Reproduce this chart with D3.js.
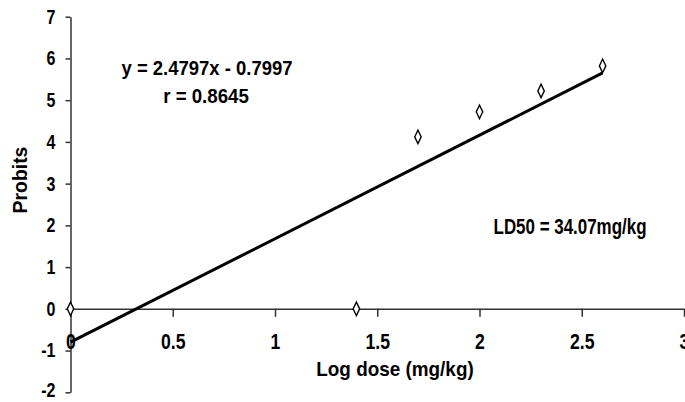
<!DOCTYPE html>
<html>
<head>
<meta charset="utf-8">
<script src="https://cdn.jsdelivr.net/npm/d3@7"></script>
<style>
  body { margin: 0; background: #fff; }
  svg text { font-family: "Liberation Sans", Arial, sans-serif; font-weight: bold; fill: #000; }
</style>
</head>
<body>
<svg width="685" height="402"></svg>
<script>
// log dose vs probit values
const logDose = [0, 1.398, 1.699, 2.0, 2.301, 2.602];
const probits = [0, 0, 4.12, 4.72, 5.22, 5.82];
const xTicks = [0, 0.5, 1, 1.5, 2, 2.5, 3];
const yTicks = [-2, -1, 0, 1, 2, 3, 4, 5, 6, 7];
const slope = 2.4797, intercept = -0.7997;

let svg = d3.select("svg");

let x = d3.scaleLinear().domain([0, 3]).range([70.5, 684]),
    y = d3.scaleLinear().domain([-2, 7]).range([392.3, 16.7]);

// narrow look: squeeze text horizontally
const NARROW = 0.8;

// y axis line + ticks
let yAxis = svg.append("g")
    .attr("transform", "translate(" + x(0) + ",0)")
    .call(d3.axisLeft(y).tickValues(yTicks).tickSize(5).tickSizeOuter(0).tickFormat(d => String(d)));
yAxis.attr("font-family", null).attr("font-size", null);
yAxis.select(".domain").attr("stroke", "#333").attr("stroke-width", 1.5);
yAxis.selectAll(".tick line").attr("stroke", "#333").attr("stroke-width", 1.5);
yAxis.selectAll(".tick text")
    .attr("x", -15 / NARROW)
    .attr("dy", d => d === -2 ? "0.22em" : "0.32em")  // bottom label kept inside the frame
    .attr("transform", "scale(" + NARROW + ",1)")
    .attr("font-size", 20);

// x axis sits on probit 0, labels hang lower
let xAxis = svg.append("g")
    .attr("transform", "translate(0," + y(0) + ")")
    .call(d3.axisBottom(x).tickValues(xTicks).tickSize(8).tickSizeOuter(0).tickFormat(d => String(d)));
xAxis.attr("font-family", null).attr("font-size", null);
xAxis.select(".domain").attr("stroke", "#333").attr("stroke-width", 1.5);
xAxis.selectAll(".tick line").attr("stroke", "#333").attr("stroke-width", 1.5);
xAxis.selectAll(".tick text")
    .attr("y", 24.5)
    .attr("transform", "scale(0.8,1)")
    .attr("font-size", 22);

// fitted line
let fit = d3.line()
    .x(d => x(d))
    .y(d => y(slope * d + intercept));
svg.append("path")
    .datum([0, d3.max(logDose)])
    .attr("d", fit)
    .attr("fill", "none")
    .attr("stroke", "#000")
    .attr("stroke-width", 3);

// observed points as open diamonds (a bit taller than wide)
let pts = logDose.map((d, i) => ({ x: d, y: probits[i] }));
svg.append("g").selectAll("path")
    .data(pts)
    .enter().append("path")
    .attr("d", d3.symbol().type(d3.symbolDiamond).size(40))
    .attr("transform", d => "translate(" + x(d.x) + "," + y(d.y) + ")scale(0.95,1.15)")
    .attr("fill", "#fff")
    .attr("stroke", "#000")
    .attr("stroke-width", 1.4);

// labels
function label(txt, cx, cy, size, sx, rot) {
    svg.append("text")
        .attr("text-anchor", "middle")
        .attr("transform", "translate(" + cx + "," + cy + ")" + (rot ? "rotate(" + rot + ")" : "") + "scale(" + sx + ",1)")
        .attr("font-size", size)
        .text(txt);
}
label("y = 2.4797x - 0.7997", 207, 74.5, 21, 0.88);
label("r = 0.8645", 206, 102.5, 21, 0.89);
label("LD50 = 34.07mg/kg", 570, 233.5, 22, 0.77);
label("Log dose (mg/kg)", 395, 375.5, 21, 0.9);
label("Probits", 26.5, 180, 20, 0.97, -90);
</script>
</body>
</html>
